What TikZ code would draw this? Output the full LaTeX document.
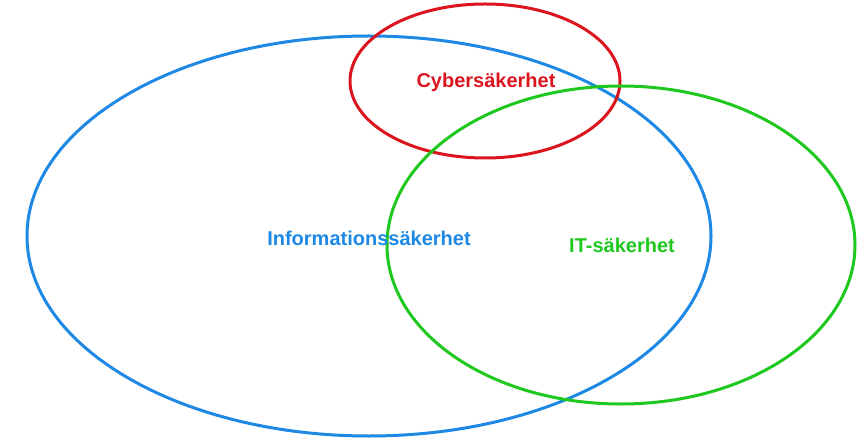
\documentclass[tikz,border=0pt]{standalone}
\usepackage{fontspec}
\setmainfont{Liberation Sans}
\definecolor{cblue}{RGB}{30,136,229}
\definecolor{cred}{RGB}{220,20,30}
\definecolor{cgreen}{RGB}{30,200,30}
\begin{document}
\begin{tikzpicture}[x=1pt,y=-1pt,
  ring/.style={line width=3pt},
  lbl/.style={font=\bfseries\fontsize{20}{24}\selectfont, inner sep=0pt}]
\useasboundingbox (0,0) rectangle (864,438);
\draw[ring,cblue] (369,236) ellipse [x radius=342, y radius=200];
\draw[ring,cred] (485,81) ellipse [x radius=135, y radius=77];
\draw[ring,cgreen] (621,245) ellipse [x radius=234, y radius=159];
\node[lbl,text=cblue] (info) at (369,238) {Informationssäkerhet};
\node[lbl,text=cred] (cyber) at (486,82) {Cybersäkerhet};
\node[lbl,text=cgreen] (it) at (622,245) {IT-säkerhet};
\end{tikzpicture}
\end{document}
